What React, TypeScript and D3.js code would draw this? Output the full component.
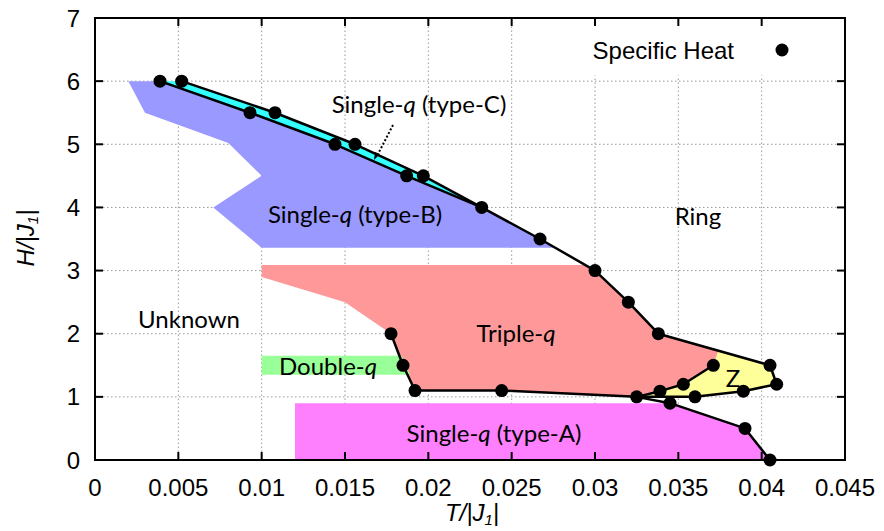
import React from "react";
import * as d3 from "d3";

const W = 884;
const H = 531;
const margin = { top: 18, right: 39, bottom: 71, left: 95 };

const xTicks = [0, 0.005, 0.01, 0.015, 0.02, 0.025, 0.03, 0.035, 0.04, 0.045];
const yTicks = [0, 1, 2, 3, 4, 5, 6, 7];
const xTickLabels = ["0", "0.005", "0.01", "0.015", "0.02", "0.025", "0.03", "0.035", "0.04", "0.045"];

// phase boundaries, [T, H]
const typeCUpper = [[0.0052, 6], [0.0108, 5.5], [0.0156, 5], [0.0197, 4.5], [0.0232, 4]];
const typeCLower = [[0.0039, 6], [0.0093, 5.5], [0.0144, 5], [0.0187, 4.5], [0.0232, 4]];
const mainLine = [[0.0232, 4], [0.0267, 3.5], [0.03, 3], [0.032, 2.5], [0.0338, 2], [0.0405, 1.5], [0.0409, 1.2], [0.0389, 1.09], [0.036, 1.0], [0.0325, 1.0]];
const zInner = [[0.0325, 1.0], [0.0339, 1.09], [0.0353, 1.2], [0.0371, 1.5]];
const lowerLine = [[0.0325, 1.0], [0.0345, 0.9], [0.039, 0.5], [0.0405, 0]];
const tripleEdge = [[0.01776, 2], [0.01848, 1.5], [0.0192, 1.1], [0.0244, 1.1], [0.0325, 1.0]];

// specific heat peaks
const heatT = [0.0039, 0.0052, 0.0093, 0.0108, 0.0144, 0.0156, 0.0187, 0.0197, 0.0232, 0.0267, 0.03, 0.032, 0.0338, 0.0405, 0.0409, 0.0389, 0.036, 0.0325, 0.0339, 0.0353, 0.0371, 0.0345, 0.039, 0.0405, 0.01776, 0.01848, 0.0192, 0.0244];
const heatH = [6, 6, 5.5, 5.5, 5, 5, 4.5, 4.5, 4, 3.5, 3, 2.5, 2, 1.5, 1.2, 1.09, 1.0, 1.0, 1.09, 1.2, 1.5, 0.9, 0.5, 0, 2, 1.5, 1.1, 1.1];

// shaded regions
const typeBArea = [[0.002, 6], [0.003, 5.5], [0.008, 5.02], [0.01, 4.5], [0.0071, 4.0], [0.01, 3.36], [0.0277, 3.36], [0.0267, 3.5], [0.0232, 4], [0.0187, 4.5], [0.0144, 5], [0.0093, 5.5], [0.0039, 6]];
const tripleArea = [[0.01, 3.09], [0.0295, 3.09], [0.03, 3], [0.032, 2.5], [0.0338, 2], [0.0374, 1.72], [0.0371, 1.5], [0.0353, 1.2], [0.0339, 1.09], [0.0325, 1.0], [0.0244, 1.1], [0.0192, 1.1], [0.01848, 1.5], [0.01776, 2], [0.015, 2.5], [0.01, 2.9]];
const zArea = [[0.0325, 1.0], [0.0339, 1.09], [0.0353, 1.2], [0.0371, 1.5], [0.0374, 1.72], [0.0405, 1.5], [0.0409, 1.2], [0.0389, 1.09], [0.036, 1.0]];
const doubleArea = [[0.01, 1.65], [0.0184, 1.65], [0.0189, 1.35], [0.01, 1.35]];
const typeAArea = [[0.012, 0], [0.012, 0.9], [0.0345, 0.9], [0.039, 0.5], [0.0405, 0]];
const typeCArea = [...typeCUpper, ...typeCLower.slice().reverse()];

const x = d3.scaleLinear().domain([0, 0.045]).range([margin.left, W - margin.right]);
const y = d3.scaleLinear().domain([0, 7]).range([H - margin.bottom, margin.top]);

const line = d3.line<number[]>().x(d => x(d[0])).y(d => y(d[1]));
const poly = (pts: number[][]) => line(pts) + "Z";

const tickFont = "'Liberation Sans', Arial, sans-serif";
const labFont = "Lato, 'Open Sans', sans-serif";

function Q() {
  return <tspan fontStyle="italic">q</tspan>;
}

export default function App() {
  const x0 = x(0), x1 = x(0.045), y0 = y(0), y1 = y(7);
  return (
    <div style={{ position: "absolute", left: 0, top: 0 }}>
      <svg width={W} height={H} style={{ display: "block", background: "#fff" }}>
        {/* grid */}
        <g stroke="#999" strokeWidth={1} strokeDasharray="1.5,2.5">
          {xTicks.slice(1, -1).map(t => (
            <line key={"gx" + t} x1={x(t)} x2={x(t)} y1={y0} y2={y1} />
          ))}
          {yTicks.slice(1, -1).map(t => (
            <line key={"gy" + t} x1={x0} x2={x1} y1={y(t)} y2={y(t)} />
          ))}
        </g>

        {/* regions */}
        <path d={poly(typeBArea)} fill="#9999ff" />
        <path d={poly(typeCArea)} fill="#33ffff" />
        <path d={poly(tripleArea)} fill="#ff9999" />
        <path d={poly(zArea)} fill="#ffff99" />
        <path d={poly(doubleArea)} fill="#99ff99" />
        <path d={poly(typeAArea)} fill="#ff80ff" />

        {/* boundaries */}
        <g fill="none" stroke="#000" strokeWidth={2.5} strokeLinejoin="round">
          {[typeCUpper, typeCLower, mainLine, zInner, lowerLine, tripleEdge].map((l, i) => (
            <path key={i} d={line(l) as string} />
          ))}
        </g>

        {/* specific heat points */}
        <g fill="#000">
          {heatT.map((t, i) => (
            <circle key={i} cx={x(t)} cy={y(heatH[i])} r={6.5} />
          ))}
        </g>

        {/* pointer to type-C band */}
        <line x1={393} y1={125} x2={377} y2={156} stroke="#000" strokeWidth={2} strokeDasharray="2,2" />
        <path d="M374,160 L375,152 L380,154 Z" fill="#000" />

        {/* region labels */}
        <g fontFamily={labFont} fontSize={24} fill="#000" textAnchor="middle" dominantBaseline="central">
          <text x={419} y={103}>Single-<Q /> (type-C)</text>
          <text x={355} y={213}>Single-<Q /> (type-B)</text>
          <text x={698} y={215}>Ring</text>
          <text x={189} y={318}>Unknown</text>
          <text x={516} y={332}>Triple-<Q /></text>
          <text x={328} y={365}>Double-<Q /></text>
          <text x={494} y={432}>Single-<Q /> (type-A)</text>
          <text x={733} y={377}>Z</text>
        </g>

        {/* key */}
        <rect x={585} y={y1 + 1.5} width={x1 - 585 - 1.5} height={56} fill="#fff" />
        <text x={734} y={50} fontFamily={tickFont} fontSize={24} textAnchor="end" dominantBaseline="central">Specific Heat</text>
        <circle cx={782} cy={50} r={6.5} fill="#000" />

        {/* frame and ticks */}
        <rect x={x0} y={y1} width={x1 - x0} height={y0 - y1} fill="none" stroke="#000" strokeWidth={2} />
        <g stroke="#000" strokeWidth={2}>
          {xTicks.slice(1, -1).map(t => (
            <g key={"tx" + t}>
              <line x1={x(t)} x2={x(t)} y1={y0} y2={y0 - 8} />
              <line x1={x(t)} x2={x(t)} y1={y1} y2={y1 + 8} />
            </g>
          ))}
          {yTicks.slice(1, -1).map(t => (
            <g key={"ty" + t}>
              <line x1={x0} x2={x0 + 8} y1={y(t)} y2={y(t)} />
              <line x1={x1} x2={x1 - 8} y1={y(t)} y2={y(t)} />
            </g>
          ))}
        </g>

        {/* tick labels */}
        <g fontFamily={tickFont} fontSize={24} fill="#000">
          {xTicks.map((t, i) => (
            <text key={"lx" + t} x={x(t)} y={487} textAnchor="middle" dominantBaseline="central">{xTickLabels[i]}</text>
          ))}
          {yTicks.map(t => (
            <text key={"ly" + t} x={80} y={y(t)} textAnchor="end" dominantBaseline="central">{t}</text>
          ))}
        </g>

        {/* axis titles */}
        <text x={472} y={521} fontFamily={tickFont} fontSize={24} fontStyle="italic" textAnchor="middle">
          T/|J<tspan fontSize={15} dy={4}>1</tspan><tspan dy={-4}>|</tspan>
        </text>
        <text transform="translate(34,238) rotate(-90)" fontFamily={tickFont} fontSize={24} fontStyle="italic" textAnchor="middle">
          H/|J<tspan fontSize={15} dy={4}>1</tspan><tspan dy={-4}>|</tspan>
        </text>
      </svg>
    </div>
  );
}
